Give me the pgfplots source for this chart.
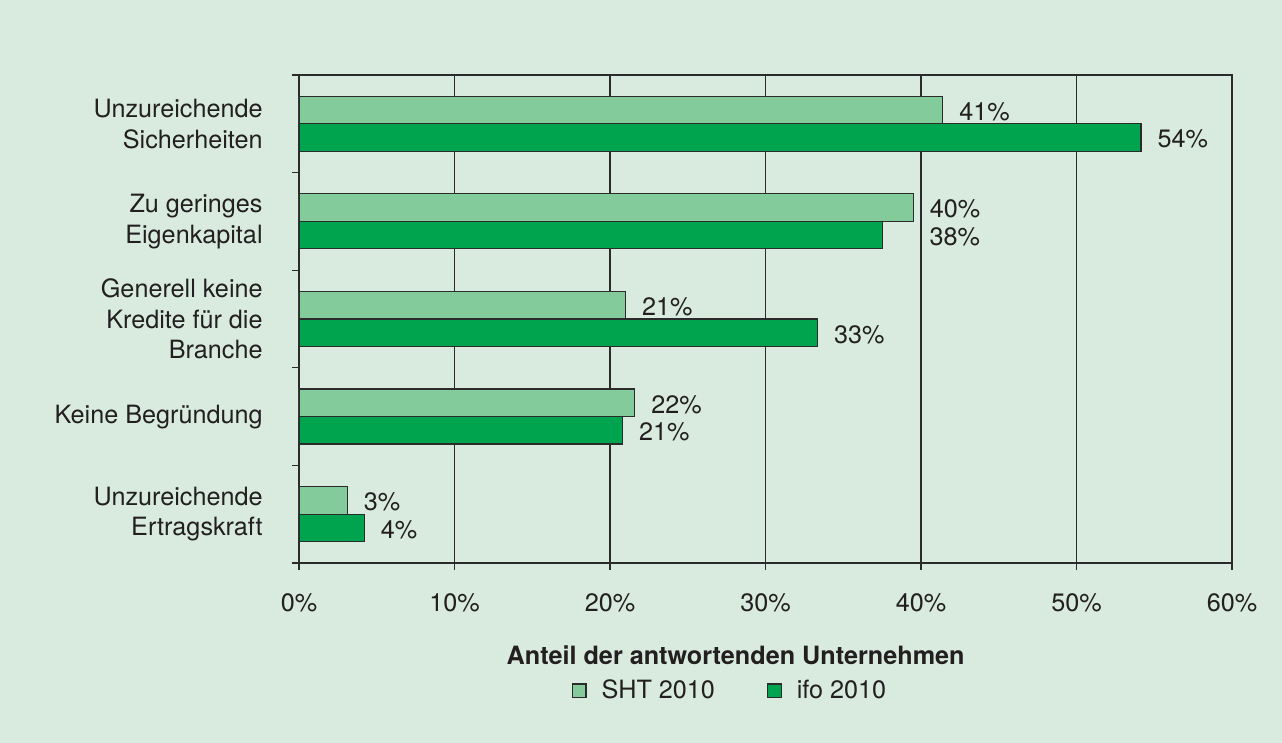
\documentclass[border=0pt]{standalone}
\usepackage{pgfplots}
\pgfplotsset{compat=1.18}
\usepackage{pgfplotstable}
\usepackage{fontspec}
\setmainfont{TeX Gyre Heros}
\definecolor{bg}{HTML}{D8EBDE}
\definecolor{lightbar}{HTML}{84CB9C}
\definecolor{darkbar}{HTML}{00A34E}
\definecolor{txt}{HTML}{231F20}
\definecolor{edge}{HTML}{2B2B2B}
\newcommand{\fs}{\fontsize{12.6}{15.3}\selectfont}

\pgfplotstableread{
y x lab sh
4.5 41.4 41 0
3.5 39.5 40 0
2.5 21.0 21 0
1.5 21.6 22 0
0.5 3.1 3 0
}\sht
\pgfplotstableread{
y x lab sh
4.5 54.15 54 0
3.5 37.5 38 15.5
2.5 33.35 33 0
1.5 20.8 21 0
0.5 4.2 4 0
}\ifo

\begin{document}
\fs
\begin{tikzpicture}
\fill[bg] (0,0) rectangle (641pt,371.5pt);
\begin{axis}[
  at={(149.5pt,90pt)}, anchor=south west,
  scale only axis, width=466.5pt, height=244pt,
  xmin=0, xmax=60, ymin=0, ymax=5,
  axis line style={edge, line width=0.6pt},
  xtick={0,10,...,60},
  xticklabels={0\%,10\%,20\%,30\%,40\%,50\%,60\%},
  ytick={0,...,5},
  yticklabels={{Unzureichende\\Ertragskraft},{Keine Begründung},{Generell keine\\Kredite für die\\Branche},{Zu geringes\\Eigenkapital},{Unzureichende\\Sicherheiten},{}},
  y tick label as interval,
  tick align=outside, major tick length=3.5pt,
  tick style={edge, line width=0.6pt},
  xtick pos=bottom, ytick pos=left,
  xmajorgrids, grid style={edge, line width=0.6pt},
  ymajorgrids=false,
  ticklabel style={font=\fs, text=txt},
  yticklabel style={align=right, inner sep=0pt},
  xticklabel style={inner sep=0pt},
  yticklabel shift=14.5pt,
  xticklabel shift=11.5pt,
  xlabel={\bfseries Anteil der antwortenden Unternehmen},
  xlabel style={at={(axis description cs:0.468,-0.19)}, anchor=center, font=\fs, text=txt},
  xbar, bar width=13.75pt,
  nodes near coords={\pgfplotspointmeta\%},
  point meta=explicit symbolic,
  visualization depends on={\thisrow{sh} \as \mysh},
  every node near coord/.append style={anchor=west, inner sep=0pt, xshift=8pt+\mysh pt, yshift=-0.8pt, font=\fs, text=txt},
  legend columns=2,
  legend style={at={(axis description cs:0.463,-0.262)}, anchor=center, draw=none, fill=none,
    font=\fs, text=txt,
    /tikz/every odd column/.append style={column sep=5.5pt},
    /tikz/every even column/.append style={column sep=24pt}},
  legend cell align=left,
  legend image code/.code={\draw[#1, line width=0.6pt] (0pt,-3.4pt) rectangle (6.8pt,3.4pt);},
]
\addplot[fill=lightbar, draw=edge, line width=0.6pt, bar shift=6.875pt] table[x=x, y=y, meta=lab] {\sht};
\addplot[fill=darkbar, draw=edge, line width=0.6pt, bar shift=-6.875pt] table[x=x, y=y, meta=lab] {\ifo};
\legend{SHT 2010, ifo 2010}
\end{axis}
\end{tikzpicture}
\end{document}
